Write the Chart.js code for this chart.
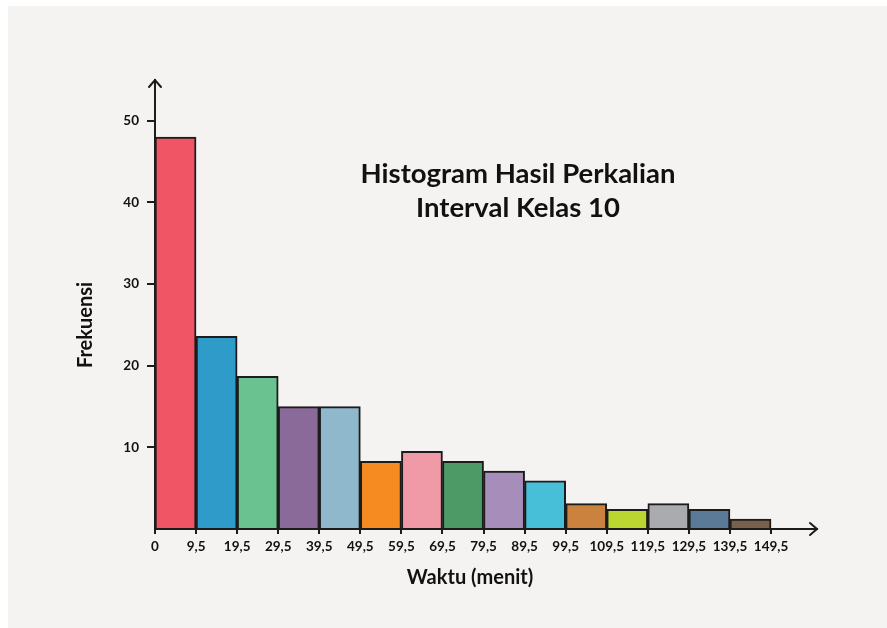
<!DOCTYPE html>
<html>
    <head>
        <meta charset="utf-8">
        <script src="https://cdn.jsdelivr.net/npm/chart.js@4.4.0/dist/chart.umd.min.js"></script>
        <style>
            html, body { margin: 0; padding: 0; background: #ffffff; }
            #wrap { position: relative; width: 887px; height: 628px; }
        </style>
    </head>
    <body>
        <div id="wrap"><canvas id="histo" width="887" height="628"></canvas></div>

        <script>
            // class boundaries shown under the x axis
            var batas = ['0', '9,5', '19,5', '29,5', '39,5', '49,5', '59,5', '69,5', '79,5', '89,5', '99,5', '109,5', '119,5', '129,5', '139,5', '149,5'];
            // frequency of each class interval
            var frekuensi = [48, 23.6, 18.7, 15, 15, 8.3, 9.5, 8.3, 7.1, 5.9, 3.1, 2.4, 3.1, 2.4, 1.2];
            var warna = ['#f05565', '#2f9bc9', '#69c28f', '#8a6a98', '#90b8cd', '#f68b21', '#f09aa8', '#4d9a67',
                         '#a78db9', '#47bfd8', '#cc823f', '#bbd531', '#a9abae', '#5a7a97', '#78604f'];
            var yTicks = [10, 20, 30, 40, 50];
            var judul = ['Histogram Hasil Perkalian', 'Interval Kelas 10'];

            // each bar sits in the middle of its interval slot
            var titik = frekuensi.map(function(f, i) { return {x: i + 0.5, y: f}; });

            var ink = '#1c1c1c';
            var font = 'Lato, "DejaVu Sans", sans-serif';

            // grey backdrop, axis arrows and the text inside the plot
            var hiasan = {
                id: 'hiasan',
                beforeDraw: function(chart) {
                    var c = chart.ctx;
                    c.save();
                    c.fillStyle = '#f4f3f1';
                    c.fillRect(8, 6, chart.width - 8, chart.height - 6);
                    c.restore();
                },
                afterDatasetsDraw: function(chart) {
                    var c = chart.ctx, a = chart.chartArea;
                    var x0 = chart.scales.x.getPixelForValue(0);
                    var y0 = chart.scales.y.getPixelForValue(0);
                    var xEnd = a.right + 32;
                    c.save();
                    c.strokeStyle = ink;
                    c.lineWidth = 2;
                    c.lineCap = 'square';
                    c.beginPath();
                    c.moveTo(x0, y0); c.lineTo(x0, a.top);
                    c.moveTo(x0, y0); c.lineTo(xEnd, y0);
                    c.stroke();
                    c.lineCap = 'round';
                    c.beginPath();
                    c.moveTo(x0 - 6, a.top + 7); c.lineTo(x0, a.top); c.lineTo(x0 + 6, a.top + 7);
                    c.moveTo(xEnd - 7, y0 - 6); c.lineTo(xEnd, y0); c.lineTo(xEnd - 7, y0 + 6);
                    c.stroke();

                    c.fillStyle = '#111111';
                    c.textAlign = 'center';
                    c.textBaseline = 'middle';
                    c.font = 'bold 27.5px ' + font;
                    c.fillText(judul[0], 518, 174);
                    c.fillText(judul[1], 518, 208);

                    c.font = 'bold 20px ' + font;
                    c.fillText('Waktu (menit)', 470, 578);
                    c.translate(86, 325);
                    c.rotate(-Math.PI / 2);
                    c.fillText('Frekuensi', 0, 0);
                    c.restore();
                }
            };

            new Chart(document.getElementById('histo'), {
                type: 'bar',
                data: {
                    datasets: [{
                        data: titik,
                        backgroundColor: warna,
                        borderColor: ink,
                        borderWidth: 2,
                        barPercentage: 1,
                        categoryPercentage: 1
                    }]
                },
                options: {
                    responsive: false,
                    animation: false,
                    layout: { padding: { left: 0, top: 80, right: 102, bottom: 0 } },
                    plugins: { legend: { display: false }, tooltip: { enabled: false } },
                    scales: {
                        x: {
                            type: 'linear',
                            min: 0,
                            max: 15.34,
                            offset: false,
                            afterBuildTicks: function(s) { s.ticks = batas.map(function(_, i) { return {value: i}; }); },
                            afterFit: function(s) { s.height = 99; },
                            border: { display: false },
                            grid: { offset: false, drawOnChartArea: false, drawTicks: true, tickLength: 5, color: ink, lineWidth: 2 },
                            ticks: {
                                autoSkip: false,
                                maxRotation: 0,
                                padding: 5,
                                color: '#111111',
                                font: { family: font, size: 13.5, weight: 'bold' },
                                callback: function(v) { return batas[v]; }
                            }
                        },
                        y: {
                            min: 0,
                            max: 55,
                            afterBuildTicks: function(s) { s.ticks = yTicks.map(function(v) { return {value: v}; }); },
                            afterFit: function(s) { s.width = 155; },
                            border: { display: false },
                            grid: { drawOnChartArea: false, drawTicks: true, tickLength: 8, color: ink, lineWidth: 2 },
                            ticks: {
                                padding: 8,
                                color: '#111111',
                                font: { family: font, size: 13.5, weight: 'bold' }
                            }
                        }
                    }
                },
                plugins: [hiasan]
            });
        </script>
    </body>
</html>
